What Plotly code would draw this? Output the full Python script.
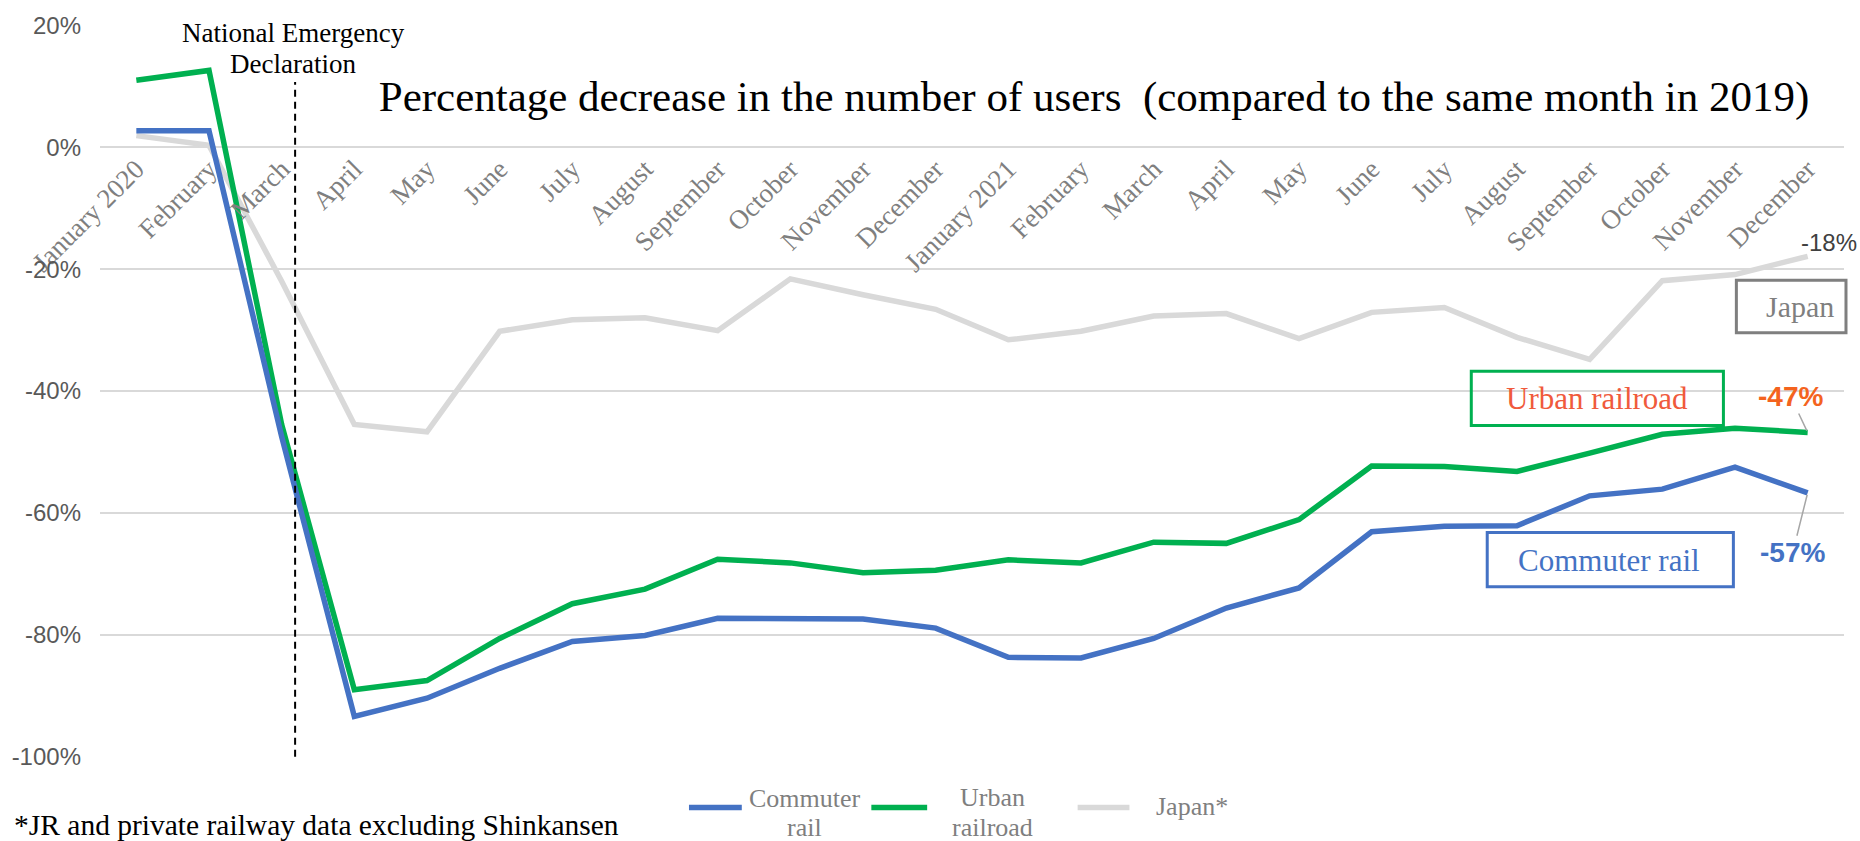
import plotly.graph_objects as go

months = ["January 2020", "February", "March", "April", "May", "June", "July",
          "August", "September", "October", "November", "December",
          "January 2021", "February", "March", "April", "May", "June", "July",
          "August", "September", "October", "November", "December"]

commuter_rail = [2.7, 2.7, -47.5, -93.4, -90.4, -85.5, -81.1, -80.1, -77.3, -77.3,
                 -77.4, -78.9, -83.7, -83.8, -80.6, -75.6, -72.3, -63.1, -62.2,
                 -62.1, -57.2, -56.1, -52.5, -56.7]
urban_railroad = [11.0, 12.6, -45.5, -89.0, -87.5, -80.6, -74.9, -72.5, -67.6, -68.2,
                  -69.8, -69.4, -67.7, -68.2, -64.8, -65.0, -61.1, -52.3, -52.4,
                  -53.2, -50.2, -47.1, -46.1, -46.8]
japan = [1.9, 0.3, -22.0, -45.5, -46.7, -30.2, -28.3, -28.0, -30.1, -21.6, -24.2,
         -26.6, -31.6, -30.2, -27.7, -27.3, -31.4, -27.1, -26.3, -31.2, -34.8,
         -21.9, -20.9, -17.9]

series_names = ["Commuter rail", "Urban railroad", "Japan*"]
y_ticks = [20, 0, -20, -40, -60, -80, -100]

BLUE = "#4472C4"
GREEN = "#00B050"
GRAY = "#D9D9D9"
SERIF = "Liberation Serif, Times New Roman, serif"
SANS = "Liberation Sans, Arial, sans-serif"

W, H = 1860, 841
L, R, T, B = 94, 16, 17, 84
PW, PH = W - L - R, H - T - B


def px(x):
    return (x - L) / PW


def py(y):
    return (H - B - y) / PH


x = list(range(len(months)))
fig = go.Figure()
for name, vals, col in [(series_names[2], japan, GRAY),
                        (series_names[1], urban_railroad, GREEN),
                        (series_names[0], commuter_rail, BLUE)]:
    fig.add_trace(go.Scatter(x=x, y=vals, mode="lines", name=name,
                             line=dict(color=col, width=5.5), showlegend=False))

shapes = []
annotations = []

# emergency declaration dashed line
shapes.append(dict(type="line", xref="x", yref="y", x0=2.185, x1=2.185, y0=-100, y1=10.7,
                   line=dict(color="black", width=2, dash="7px,5px")))


def box(x0, x1, y0, y1, col):
    shapes.append(dict(type="rect", xref="paper", yref="paper",
                       x0=px(x0), x1=px(x1), y0=py(y1), y1=py(y0),
                       line=dict(color=col, width=3), fillcolor="rgba(0,0,0,0)"))


box(1470, 1723, 367, 422, GREEN)
box(1486, 1733, 530, 585, BLUE)
box(1736, 1846, 275, 328, "#7F7F7F")


def text(t, xc, yc, size, color, font=SERIF, xanchor="center"):
    annotations.append(dict(text=t, xref="paper", yref="paper", x=px(xc), y=py(yc),
                            xanchor=xanchor, yanchor="middle", showarrow=False,
                            font=dict(family=font, size=size, color=color)))


text("Urban railroad", 1596, 395, 31, "#F05A3C")
text("Commuter rail", 1608, 558, 31, BLUE)
text("Japan", 1800, 302, 30, "#7F7F7F")
text("National Emergency", 288, 25, 27, "black")
text("Declaration", 288, 56, 27, "black")
text("*JR and private railway data excluding Shinkansen", 6, 826, 29.5, "black", xanchor="left")
text("-18%", 1829, 237, 24, "#404040", font=SANS)

# value labels with leader lines
annotations.append(dict(x=23, y=urban_railroad[-1], xref="x", yref="y",
                        text="<b>-47%</b>", showarrow=True, arrowhead=0, arrowwidth=1.5,
                        arrowcolor="#A6A6A6", ax=-17, ay=-36, standoff=2,
                        font=dict(family=SANS, size=28, color="#F4631E")))
annotations.append(dict(x=23, y=commuter_rail[-1], xref="x", yref="y",
                        text="<b>-57%</b>", showarrow=True, arrowhead=0, arrowwidth=1.5,
                        arrowcolor="#A6A6A6", ax=-15, ay=60, standoff=2,
                        font=dict(family=SANS, size=28, color=BLUE)))

# custom legend
for (x0, x1), col in [((685, 738), BLUE), ((868, 924), GREEN), ((1075, 1127), GRAY)]:
    shapes.append(dict(type="line", xref="paper", yref="paper", x0=px(x0), x1=px(x1),
                       y0=py(808), y1=py(808), line=dict(color=col, width=5.5)))
LG = "#7F7F7F"
text("Commuter", 801, 799, 26, LG)
text("rail", 801, 828, 26, LG)
text("Urban", 990, 798, 26, LG)
text("railroad", 990, 828, 26, LG)
text("Japan*", 1190, 807, 26, LG)

fig.update_layout(
    width=W, height=H,
    margin=dict(l=L, r=R, t=T, b=B),
    paper_bgcolor="white", plot_bgcolor="white",
    title=dict(text="Percentage decrease in the number of users  (compared to the same month in 2019)",
               x=1094 / W, y=1 - 96 / H, xanchor="center", yanchor="middle",
               font=dict(family=SERIF, size=43, color="black")),
    xaxis=dict(range=[-0.5, 23.5], tickmode="array", tickvals=x, ticktext=months,
               tickangle=-45, showgrid=False, zeroline=False, showline=False, ticks="",
               anchor="free", position=100 / 120,
               tickfont=dict(family=SERIF, size=27, color="#7F7F7F")),
    yaxis=dict(range=[-100.05, 20.05], tickmode="array", tickvals=y_ticks,
               ticktext=[f"{v}%" for v in y_ticks], showgrid=True, gridcolor="#D9D9D9",
               gridwidth=2, zeroline=False, showline=False, ticks="",
               ticklabelstandoff=18,
               tickfont=dict(family=SANS, size=24, color="#595959")),
    shapes=shapes, annotations=annotations, showlegend=False,
)

fig.write_html("out.html", config={"displayModeBar": False},
               post_script="document.body.style.margin='0';"
                           "document.body.style.overflow='hidden';"
                           "document.documentElement.style.overflow='hidden';")
